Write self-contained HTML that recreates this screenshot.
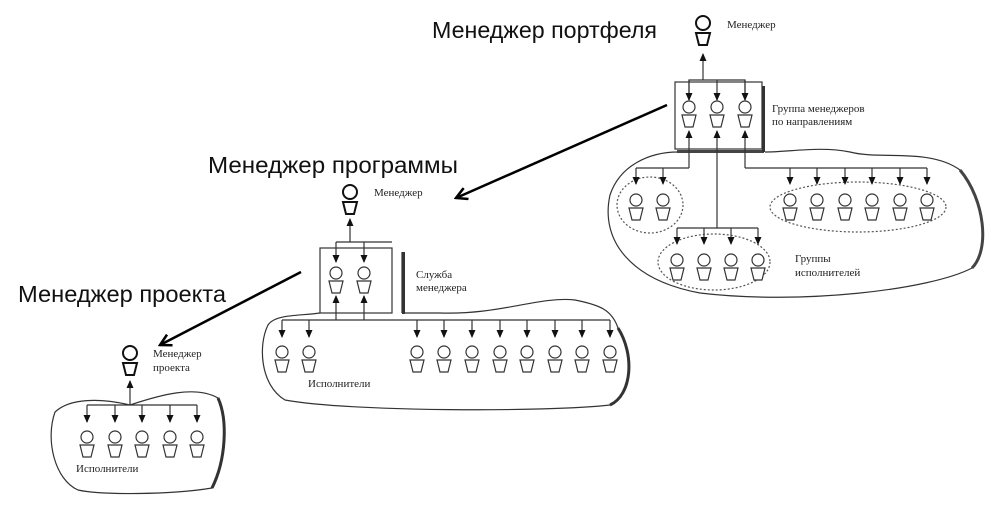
<!DOCTYPE html>
<html><head><meta charset="utf-8"><style>
html,body{margin:0;padding:0;background:#fff;}
svg{display:block;}
.big{font-family:"Liberation Sans","DejaVu Sans",sans-serif;font-size:23px;fill:#111;}
.sm{font-family:"Liberation Serif","DejaVu Serif",serif;font-size:11px;fill:#222;}
</style></head><body>
<svg width="1004" height="519" viewBox="0 0 1004 519" xmlns="http://www.w3.org/2000/svg">
<defs>
<marker id="ah" markerWidth="8" markerHeight="8" refX="7" refY="4" orient="auto" markerUnits="userSpaceOnUse"><path d="M0,0.5 L8,4 L0,7.5 Z" fill="#111"/></marker>
<marker id="va" markerWidth="14" markerHeight="14" refX="12" refY="7" orient="auto" markerUnits="userSpaceOnUse"><path d="M1,1 L12,7 L1,13" fill="none" stroke="#000" stroke-width="2.5"/></marker>
<g id="p"><circle cx="0" cy="0" r="6" fill="#fff" stroke="#333" stroke-width="1.2"/><path d="M-7,8 L7,8 L4,20 L-4,20 Z" fill="#fff" stroke="#333" stroke-width="1.2"/></g>
<g id="pb"><circle cx="0" cy="0" r="7" fill="#fff" stroke="#111" stroke-width="2"/><path d="M-7,10 L7,10 L4,22 L-4,22 Z" fill="#fff" stroke="#111" stroke-width="2"/></g>
</defs>
<g fill="none" stroke="#333" stroke-width="1.2">
<path d="M678,152 C650,152 620,165 610,195 C600,240 630,280 700,293 C800,305 930,290 972,268 C990,250 985,200 960,170 C930,148 880,160 850,152 C820,146 790,152 765,152" />
<path d="M972,268 C990,250 985,200 960,170" stroke="#444" stroke-width="3"/>
<rect x="677" y="150" width="87" height="3" fill="#444" stroke="none"/>
<rect x="675" y="82" width="87" height="67" fill="#fff"/>
<rect x="762" y="86" width="3" height="66" fill="#333" stroke="none"/>
<line x1="703" y1="80" x2="703" y2="54" marker-end="url(#ah)"/>
<polyline points="689,100 689,80 745,80 745,100"/>
<line x1="689" y1="80" x2="689" y2="100" marker-end="url(#ah)"/>
<line x1="717" y1="80" x2="717" y2="100" marker-end="url(#ah)"/>
<line x1="745" y1="80" x2="745" y2="100" marker-end="url(#ah)"/>
<line x1="689" y1="168" x2="689" y2="131" marker-end="url(#ah)"/>
<line x1="717" y1="228" x2="717" y2="131" marker-end="url(#ah)"/>
<line x1="745" y1="168" x2="745" y2="131" marker-end="url(#ah)"/>
<line x1="636" y1="168" x2="689" y2="168"/>
<line x1="745" y1="168" x2="927" y2="168"/>
<line x1="677" y1="228" x2="758" y2="228"/>
<g stroke-dasharray="2,2" stroke="#555">
<ellipse cx="650" cy="205" rx="33" ry="28"/>
<ellipse cx="858" cy="207" rx="88" ry="25"/>
<ellipse cx="714" cy="262" rx="56" ry="28"/>
</g>
<g>
<line x1="636" y1="168" x2="636" y2="184" marker-end="url(#ah)"/>
<line x1="663" y1="168" x2="663" y2="184" marker-end="url(#ah)"/>
<line x1="790" y1="168" x2="790" y2="184" marker-end="url(#ah)"/>
<line x1="817" y1="168" x2="817" y2="184" marker-end="url(#ah)"/>
<line x1="845" y1="168" x2="845" y2="184" marker-end="url(#ah)"/>
<line x1="872" y1="168" x2="872" y2="184" marker-end="url(#ah)"/>
<line x1="900" y1="168" x2="900" y2="184" marker-end="url(#ah)"/>
<line x1="927" y1="168" x2="927" y2="184" marker-end="url(#ah)"/>
<line x1="677" y1="228" x2="677" y2="244" marker-end="url(#ah)"/>
<line x1="704" y1="228" x2="704" y2="244" marker-end="url(#ah)"/>
<line x1="731" y1="228" x2="731" y2="244" marker-end="url(#ah)"/>
<line x1="758" y1="228" x2="758" y2="244" marker-end="url(#ah)"/>
</g>

<path d="M320,313 C300,316 275,314 268,325 C258,345 260,385 285,400 C350,412 550,412 610,405 C632,395 635,355 618,328 C612,310 600,305 575,300 C540,296 500,315 440,313 L402,313"/>
<path d="M610,405 C632,395 635,355 618,328" stroke="#333" stroke-width="3"/>
<rect x="320" y="248" width="72" height="65" fill="#fff"/>
<line x1="402" y1="252" x2="402" y2="313"/>
<rect x="402" y="252" width="3" height="62" fill="#333" stroke="none"/>
<line x1="350" y1="242" x2="350" y2="219" marker-end="url(#ah)"/>
<line x1="336" y1="242" x2="392" y2="242"/>
<line x1="336" y1="242" x2="336" y2="262" marker-end="url(#ah)"/>
<line x1="364" y1="242" x2="364" y2="262" marker-end="url(#ah)"/>
<line x1="336" y1="320" x2="336" y2="296" marker-end="url(#ah)"/>
<line x1="364" y1="320" x2="364" y2="296" marker-end="url(#ah)"/>
<line x1="282" y1="320" x2="610" y2="320"/>
<line x1="282" y1="320" x2="282" y2="337" marker-end="url(#ah)"/>
<line x1="309" y1="320" x2="309" y2="337" marker-end="url(#ah)"/>
<line x1="417" y1="320" x2="417" y2="337" marker-end="url(#ah)"/>
<line x1="444" y1="320" x2="444" y2="337" marker-end="url(#ah)"/>
<line x1="472" y1="320" x2="472" y2="337" marker-end="url(#ah)"/>
<line x1="500" y1="320" x2="500" y2="337" marker-end="url(#ah)"/>
<line x1="527" y1="320" x2="527" y2="337" marker-end="url(#ah)"/>
<line x1="555" y1="320" x2="555" y2="337" marker-end="url(#ah)"/>
<line x1="582" y1="320" x2="582" y2="337" marker-end="url(#ah)"/>
<line x1="610" y1="320" x2="610" y2="337" marker-end="url(#ah)"/>

<path d="M55,412 C70,398 100,398 130,405 C160,395 195,385 218,398 C228,420 226,460 212,488 C170,495 100,495 78,490 C55,480 45,440 55,412"/>
<path d="M218,398 C228,420 226,460 212,488" stroke="#333" stroke-width="3"/>
<line x1="130" y1="405" x2="130" y2="381" marker-end="url(#ah)"/>
<line x1="87" y1="405" x2="197" y2="405"/>
<line x1="87" y1="405" x2="87" y2="422" marker-end="url(#ah)"/>
<line x1="115" y1="405" x2="115" y2="422" marker-end="url(#ah)"/>
<line x1="142" y1="405" x2="142" y2="422" marker-end="url(#ah)"/>
<line x1="170" y1="405" x2="170" y2="422" marker-end="url(#ah)"/>
<line x1="197" y1="405" x2="197" y2="422" marker-end="url(#ah)"/>
</g>

<use href="#pb" x="703" y="23"/>
<use href="#p" x="689" y="107"/><use href="#p" x="717" y="107"/><use href="#p" x="745" y="107"/>
<use href="#p" x="636" y="200"/><use href="#p" x="663" y="200"/>
<use href="#p" x="790" y="200"/><use href="#p" x="817" y="200"/><use href="#p" x="845" y="200"/><use href="#p" x="872" y="200"/><use href="#p" x="900" y="200"/><use href="#p" x="927" y="200"/>
<use href="#p" x="677" y="260"/><use href="#p" x="704" y="260"/><use href="#p" x="731" y="260"/><use href="#p" x="758" y="260"/>
<use href="#pb" x="350" y="192"/>
<use href="#p" x="336" y="273"/><use href="#p" x="364" y="273"/>
<use href="#p" x="282" y="352"/><use href="#p" x="309" y="352"/>
<use href="#p" x="417" y="352"/><use href="#p" x="444" y="352"/><use href="#p" x="472" y="352"/><use href="#p" x="500" y="352"/><use href="#p" x="527" y="352"/><use href="#p" x="555" y="352"/><use href="#p" x="582" y="352"/><use href="#p" x="610" y="352"/>
<use href="#pb" x="130" y="353"/>
<use href="#p" x="87" y="437"/><use href="#p" x="115" y="437"/><use href="#p" x="142" y="437"/><use href="#p" x="170" y="437"/><use href="#p" x="197" y="437"/>

<line x1="667" y1="105" x2="456" y2="198" stroke="#000" stroke-width="2.5" marker-end="url(#va)"/>
<line x1="301" y1="272" x2="160" y2="345" stroke="#000" stroke-width="2.5" marker-end="url(#va)"/>

<text class="big" x="432" y="38" textLength="225" lengthAdjust="spacingAndGlyphs">Менеджер портфеля</text>
<text class="big" x="208" y="173" textLength="250" lengthAdjust="spacingAndGlyphs">Менеджер программы</text>
<text class="big" x="18" y="302" textLength="208" lengthAdjust="spacingAndGlyphs">Менеджер проекта</text>
<text class="sm" x="727" y="28">Менеджер</text>
<text class="sm" x="772" y="112">Группа менеджеров</text>
<text class="sm" x="772" y="125">по направлениям</text>
<text class="sm" x="795" y="262">Группы</text>
<text class="sm" x="795" y="276">исполнителей</text>
<text class="sm" x="374" y="196">Менеджер</text>
<text class="sm" x="416" y="278">Служба</text>
<text class="sm" x="416" y="291">менеджера</text>
<text class="sm" x="308" y="387">Исполнители</text>
<text class="sm" x="153" y="357">Менеджер</text>
<text class="sm" x="153" y="371">проекта</text>
<text class="sm" x="76" y="472">Исполнители</text>
</svg>
</body></html>
